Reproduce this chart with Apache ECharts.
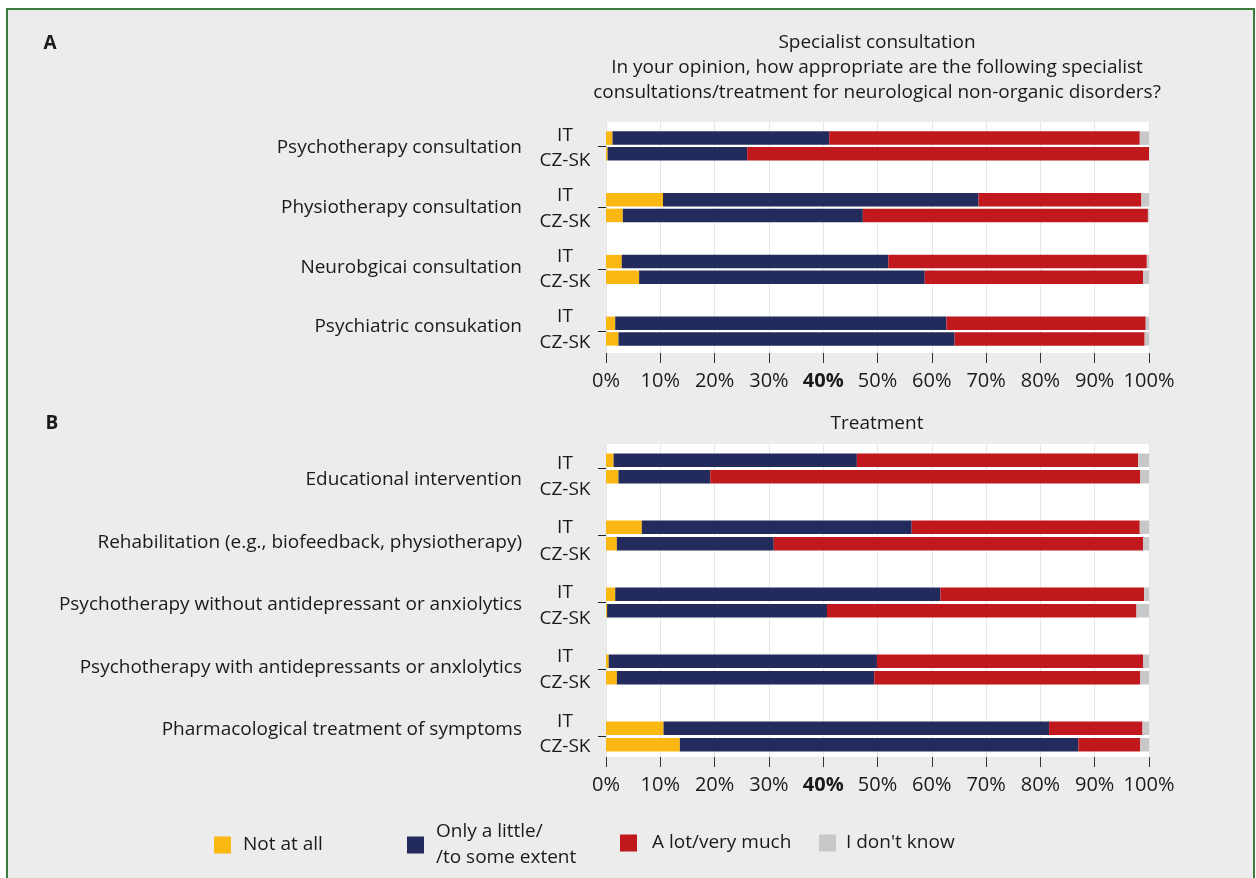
<!DOCTYPE html>
<html>
<head>
<meta charset="utf-8">
<script src="https://cdn.jsdelivr.net/npm/echarts@6/dist/echarts.min.js"></script>
<style>
html,body{margin:0;padding:0;background:#fff;}
#chart{width:1256px;height:878px;}
</style>
</head>
<body>
<div id="chart"></div>
<script>
// ---------- data ----------
const consultCategories = ['Psychotherapy consultation', 'Physiotherapy consultation', 'Neurobgicai consultation', 'Psychiatric consukation'];
const treatmentCategories = ['Educational intervention', 'Rehabilitation (e.g., biofeedback, physiotherapy)', 'Psychotherapy without antidepressant or anxiolytics', 'Psychotherapy with antidepressants or anxlolytics', 'Pharmacological treatment of symptoms'];
const countries = ['IT', 'CZ-SK'];
const responses = ['Not at all', 'Only a little/\n/to some extent', 'A lot/very much', "I don't know"];
const xTickLabels = ['0%', '10%', '20%', '30%', '40%', '50%', '60%', '70%', '80%', '90%', '100%'];

// Panel A – specialist consultation (percent)
const consultIT_notAtAll = [1.2, 10.5, 2.9, 1.7];
const consultIT_little   = [39.9, 58.1, 49.1, 61.0];
const consultIT_lot      = [57.2, 30.0, 47.6, 36.7];
const consultIT_dontKnow = [1.7, 1.4, 0.4, 0.6];
const consultCZ_notAtAll = [0.3, 3.1, 6.1, 2.3];
const consultCZ_little   = [25.7, 44.2, 52.6, 61.9];
const consultCZ_lot      = [74.0, 52.5, 40.2, 35.0];
const consultCZ_dontKnow = [0.0, 0.2, 1.1, 0.8];

// Panel B – treatment (percent)
const treatIT_notAtAll = [1.4, 6.6, 1.7, 0.5, 10.6];
const treatIT_little   = [44.8, 49.7, 59.9, 49.4, 71.0];
const treatIT_lot      = [51.8, 42.0, 37.5, 49.0, 17.2];
const treatIT_dontKnow = [2.0, 1.7, 0.9, 1.1, 1.2];
const treatCZ_notAtAll = [2.3, 2.0, 0.2, 2.0, 13.6];
const treatCZ_little   = [16.9, 28.9, 40.5, 47.4, 73.4];
const treatCZ_lot      = [79.2, 68.0, 57.0, 49.0, 11.4];
const treatCZ_dontKnow = [1.6, 1.1, 2.3, 1.6, 1.6];

// ---------- style ----------
const FONT = '"Open Sans", "Noto Sans", sans-serif';
const TXT = '#1a1a1a';
const FS = 19;
const COLORS = ['#FBB813', '#232A5C', '#C0181C', '#C8C8C8'];
const PLOT_L = 606, PLOT_W = 543;

const chart = echarts.init(document.getElementById('chart'), null, {renderer: 'canvas'});

function axisX(gridIndex) {
  return {
    type: 'value', gridIndex, min: 0, max: 100, interval: 10,
    axisLine: {show: false},
    axisTick: {show: true, length: 10, lineStyle: {color: '#333', width: 1}},
    splitLine: {show: true, lineStyle: {color: '#e6e6e6', width: 1}},
    axisLabel: {
      margin: 18, fontSize: 20, color: TXT, fontFamily: FONT,
      formatter: v => {
        const t = xTickLabels[Math.round(v / 10)];
        return v === 40 ? '{b|' + t + '}' : t;
      },
      rich: {b: {fontWeight: 'bold', fontSize: 20, color: TXT, fontFamily: FONT}}
    }
  };
}
function hiddenX(gridIndex) {
  return {type: 'value', gridIndex, min: 0, max: 100, show: false, splitLine: {show: false}};
}
function hiddenY(gridIndex) {
  return {type: 'value', gridIndex, show: false, splitLine: {show: false}};
}
// category axis carrying the bars: ticks only
function barY(gridIndex, cats) {
  return {
    type: 'category', gridIndex, data: cats, inverse: true,
    axisLine: {show: false},
    axisTick: {show: true, alignWithLabel: true, length: 8, lineStyle: {color: '#222'}},
    axisLabel: {show: false}
  };
}
// category axis used only for its labels
function labelY(gridIndex, cats, margin, align, formatter) {
  return {
    type: 'category', gridIndex, data: cats, inverse: true,
    axisLine: {show: false}, axisTick: {show: false}, splitLine: {show: false},
    axisLabel: {margin, align, fontSize: FS, color: TXT, fontFamily: FONT, formatter}
  };
}

function makeSeries(xAxisIndex, yAxisIndex, countryIdx, arrays, barGap) {
  return arrays.map((arr, i) => ({
    type: 'bar', name: responses[i], xAxisIndex, yAxisIndex,
    stack: 'p' + xAxisIndex + '_' + countryIdx,
    data: arr, barWidth: 13.5, barGap: barGap,
    itemStyle: {color: COLORS[i]},
    emphasis: {disabled: true},
    animation: false
  }));
}

const series = [].concat(
  makeSeries(1, 1, 0, [consultIT_notAtAll, consultIT_little, consultIT_lot, consultIT_dontKnow], '15%'),
  makeSeries(1, 1, 1, [consultCZ_notAtAll, consultCZ_little, consultCZ_lot, consultCZ_dontKnow], '15%'),
  makeSeries(3, 3, 0, [treatIT_notAtAll, treatIT_little, treatIT_lot, treatIT_dontKnow], '22%'),
  makeSeries(3, 3, 1, [treatCZ_notAtAll, treatCZ_little, treatCZ_lot, treatCZ_dontKnow], '22%')
);

function legendAt(left, name, top, gap) {
  return {
    show: true, left, top, padding: 0, itemWidth: 17, itemHeight: 17,
    selectedMode: false, icon: 'rect', data: [name],
    textStyle: {fontSize: FS, color: TXT, fontFamily: FONT, lineHeight: 26, padding: [0, 0, 0, gap]}
  };
}

function g(top, height, extra) {
  return Object.assign({left: PLOT_L, width: PLOT_W, top, height}, extra || {});
}

const itFmt = () => countries[0];
const czFmt = () => countries[1];

const option = {
  backgroundColor: '#ffffff',
  animation: false,
  textStyle: {fontFamily: FONT},
  graphic: [
    {type: 'rect', z: -100, silent: true, shape: {x: 7, y: 9, width: 1247, height: 900},
     style: {fill: '#ececec', stroke: '#3d7b3d', lineWidth: 2}},
    {type: 'text', x: 50, y: 44, silent: true,
     style: {text: 'A', align: 'center', verticalAlign: 'middle', font: 'bold ' + FS + 'px ' + FONT, fill: TXT}},
    {type: 'text', x: 877, y: 30, silent: true,
     style: {text: 'Specialist consultation\nIn your opinion, how appropriate are the following specialist\nconsultations/treatment for neurological non-organic disorders?',
             align: 'center', verticalAlign: 'top', font: FS + 'px ' + FONT, lineHeight: 25, fill: TXT}},
    {type: 'text', x: 52, y: 424, silent: true,
     style: {text: 'B', align: 'center', verticalAlign: 'middle', font: 'bold ' + FS + 'px ' + FONT, fill: TXT}},
    {type: 'text', x: 877, y: 424, silent: true,
     style: {text: 'Treatment', align: 'center', verticalAlign: 'middle', font: FS + 'px ' + FONT, fill: TXT}}
  ],
  legend: [
    legendAt(214, responses[0], 832, 7),
    legendAt(407, responses[1], 819, 7),
    legendAt(620, responses[2], 830, 10),
    legendAt(819, responses[3], 830, 5)
  ],
  grid: [
    g(122, 231, {show: true, backgroundColor: '#ffffff', borderWidth: 0}), // 0 A axis / background
    g(115, 247),                                                           // 1 A bars
    g(444, 313, {show: true, backgroundColor: '#ffffff', borderWidth: 0}), // 2 B axis / background
    g(435, 335),                                                           // 3 B bars
    g(118.2, 238.7),                                                       // 4 A category labels
    g(448.75, 312.5),                                                      // 5 B category labels
    g(105.25, 242),                                                        // 6 A IT labels
    g(130.2, 242.7),                                                       // 7 A CZ-SK labels
    g(431.25, 322.5),                                                      // 8 B IT labels
    g(458, 320.6)                                                          // 9 B CZ-SK labels
  ],
  xAxis: [axisX(0), hiddenX(1), axisX(2), hiddenX(3), hiddenX(4), hiddenX(5), hiddenX(6), hiddenX(7), hiddenX(8), hiddenX(9)],
  yAxis: [
    hiddenY(0), barY(1, consultCategories), hiddenY(2), barY(3, treatmentCategories),
    labelY(4, consultCategories, 84, 'right'),
    labelY(5, treatmentCategories, 84, 'right'),
    labelY(6, consultCategories, 41, 'center', itFmt),
    labelY(7, consultCategories, 41, 'center', czFmt),
    labelY(8, treatmentCategories, 41, 'center', itFmt),
    labelY(9, treatmentCategories, 41, 'center', czFmt)
  ],
  series
};
chart.setOption(option);
</script>
</body>
</html>
